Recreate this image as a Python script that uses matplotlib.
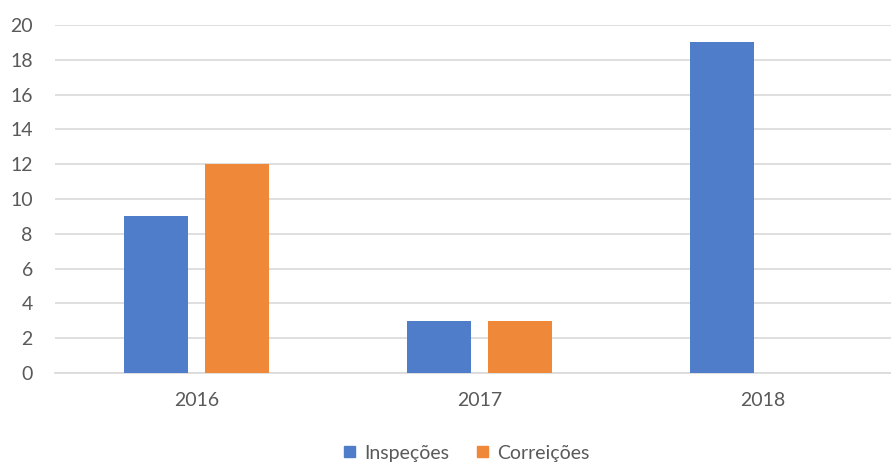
import matplotlib
matplotlib.use("Agg")
import matplotlib.pyplot as plt
import numpy as np
from matplotlib.patches import Patch

categories = ["2016", "2017", "2018"]
inspecoes = [9, 3, 19]
correicoes = [12, 3, 0]
series_names = ["Inspeções", "Correições"]
yticks = [0, 2, 4, 6, 8, 10, 12, 14, 16, 18, 20]

blue = "#4F7DC9"
orange = "#EF8839"
grid_c = "#D9D9D9"
text_c = "#595959"

plt.rcParams['font.family'] = ['Lato', 'DejaVu Sans']

W, H = 891, 463
fig = plt.figure(figsize=(W / 100, H / 100), dpi=100)
left, right, top, bottom = 55, 904, 25, 373
ax = fig.add_axes([left / W, (H - bottom) / H, (right - left) / W, (bottom - top) / H])

x = np.arange(len(categories))
bw = 0.226
off = 0.143
ax.bar(x - off, inspecoes, bw, color=blue, zorder=3)
ax.bar(x + off, correicoes, bw, color=orange, zorder=3)

ax.set_xlim(-0.5, 2.5)
ax.set_ylim(0, 20)
ax.set_yticks(yticks)
ax.set_xticks(x)
ax.set_xticklabels(categories)
ax.yaxis.grid(True, color=grid_c, linewidth=1.2, zorder=0)
ax.set_axisbelow(True)
for s in ["top", "right", "left"]:
    ax.spines[s].set_visible(False)
ax.spines["bottom"].set_color(grid_c)
ax.spines["bottom"].set_linewidth(1.2)
ax.tick_params(axis="both", length=0, labelsize=14, colors=text_c)
ax.tick_params(axis="y", pad=16)
ax.tick_params(axis="x", pad=14)
for lbl in ax.get_yticklabels():
    lbl.set_horizontalalignment("right")

handles = [Patch(color=blue, label=series_names[0]), Patch(color=orange, label=series_names[1])]
fig.legend(handles=handles, loc="center", bbox_to_anchor=(467 / W, (H - 453) / H),
           ncol=2, frameon=False, fontsize=14, handlelength=0.55, handleheight=0.55,
           handletextpad=0.5, columnspacing=1.4, labelcolor=text_c)

fig.savefig("out.png", dpi=100)
